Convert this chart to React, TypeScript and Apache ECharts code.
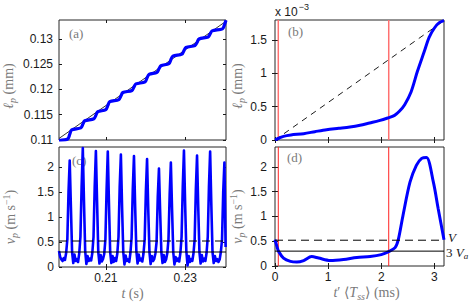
import React, { useEffect, useRef } from "react";
import * as echarts from "echarts";

// ---------- data ----------
// (a) l_p(t): time (s) and length (mm)
const A_T = [
  0.1982, 0.2004, 0.2009, 0.2014, 0.2037, 0.2042, 0.2047, 0.2070, 0.2075, 0.2080,
  0.2100, 0.2105, 0.2110, 0.2133, 0.2138, 0.2143, 0.2166, 0.2171, 0.2176, 0.2199,
  0.2204, 0.2209, 0.2229, 0.2234, 0.2239, 0.2259, 0.2264, 0.2269, 0.2292, 0.2297,
  0.2302, 0.2325, 0.2330, 0.2335, 0.2358, 0.2363, 0.2368, 0.2394, 0.2399, 0.2403,
];
const A_L = [
  0.1099, 0.1102, 0.1111, 0.1120, 0.1124, 0.1131, 0.1138, 0.1142, 0.1149, 0.1156,
  0.1160, 0.1168, 0.1176, 0.1180, 0.1187, 0.1194, 0.1198, 0.1205, 0.1211, 0.1215,
  0.1223, 0.1230, 0.1234, 0.1241, 0.1247, 0.1251, 0.1259, 0.1266, 0.1270, 0.1277,
  0.1283, 0.1287, 0.1293, 0.1300, 0.1304, 0.1310, 0.1316, 0.1320, 0.1328, 0.1337,
];
const A_FIT_T = [0.1982, 0.2403];
const A_FIT_L = [0.1103, 0.1335];

// (c) v_p(t): sampled every C_DT seconds from C_T0
const C_T0 = 0.1982;
const C_DT = 0.0003;
const C_V = [
  0.32, 0.2, 0.15, 0.12, 0.18, 0.14, 0.28, 0.55, 1.5, 2.13,
  1.2, 0.3, 0.08, 0.25, 0.12, 0.16, 0.1, 0.27, 0.6, 1.6,
  2.38, 1.3, 0.32, 0.06, 0.22, 0.12, 0.17, 0.13, 0.28, 0.6,
  1.6, 2.32, 1.3, 0.3, 0.07, 0.24, 0.11, 0.16, 0.26, 0.55,
  1.55, 2.31, 1.25, 0.3, 0.08, 0.22, 0.1, 0.18, 0.12, 0.27,
  0.6, 1.6, 2.25, 1.2, 0.3, 0.05, 0.23, 0.12, 0.15, 0.1,
  0.28, 0.58, 1.55, 2.22, 1.2, 0.32, 0.07, 0.25, 0.13, 0.17,
  0.11, 0.27, 0.55, 1.5, 2.16, 1.15, 0.3, 0.06, 0.22, 0.12,
  0.16, 0.27, 0.5, 1.4, 1.97, 1.1, 0.3, 0.08, 0.24, 0.1,
  0.15, 0.28, 0.55, 1.45, 2.09, 1.15, 0.3, 0.05, 0.2, 0.12,
  0.17, 0.11, 0.28, 0.6, 1.6, 2.33, 1.25, 0.32, 0.03, 0.22,
  0.1, 0.16, 0.12, 0.27, 0.55, 1.55, 2.23, 1.2, 0.3, 0.07,
  0.24, 0.11, 0.17, 0.12, 0.28, 0.6, 1.6, 2.31, 1.25, 0.3,
  0.08, 0.22, 0.12, 0.16, 0.1, 0.15, 0.3, 0.55, 1.5, 2.09,
  0.4,
];

// (b) phase-averaged l_p (x 10^-3 mm) vs t' (ms)
const B_T = [0, 0.08, 0.16, 0.3, 0.54, 0.75, 0.97, 1.2, 1.41, 1.6, 1.78, 1.96, 2.12, 2.25, 2.34, 2.44, 2.56, 2.68, 2.81, 2.9, 3.0, 3.09, 3.18];
const B_L = [0, 0.03, 0.055, 0.075, 0.095, 0.125, 0.155, 0.175, 0.194, 0.22, 0.255, 0.29, 0.33, 0.37, 0.43, 0.53, 0.72, 1.03, 1.33, 1.54, 1.68, 1.76, 1.79];
const B_LIN_T = [0, 3.18];
const B_LIN_L = [0, 1.79];

// (d) phase-averaged v_p (m/s) vs t' (ms)
const D_T = [0, 0.04, 0.07, 0.16, 0.29, 0.41, 0.54, 0.69, 0.82, 1.04, 1.29, 1.54, 1.79, 2.0, 2.14, 2.26, 2.32, 2.41, 2.54, 2.66, 2.76, 2.85, 2.98, 3.07, 3.18];
const D_V = [0.53, 0.38, 0.29, 0.16, 0.094, 0.08, 0.11, 0.19, 0.16, 0.11, 0.13, 0.17, 0.19, 0.23, 0.29, 0.37, 0.53, 1.03, 1.69, 2.03, 2.17, 2.19, 1.69, 1.16, 0.53];

const PHASE_MARKS = [0.062, 2.14];
const V_MEAN = 0.52;
const V_3VA = 0.3;

const T_RANGE = [0.1982, 0.2403];
const TP_RANGE = [0, 3.18];
const LA_RANGE = [0.11, 0.13375];
const LB_RANGE = [0, 1.8];
const V_RANGE = [0, 2.4];

const T_TICKS = [0.21, 0.23];
const TP_TICKS = [0, 1, 2, 3];
const LA_TICKS = [0.11, 0.115, 0.12, 0.125, 0.13];
const LB_TICKS = [0, 0.5, 1, 1.5];
const V_TICKS = [0, 0.5, 1, 1.5, 2];

// ---------- styling ----------
const SERIF = "'Liberation Serif', 'DejaVu Serif', 'DejaVu Sans', serif";
const SANS = "'Liberation Sans', Arial, 'DejaVu Sans', sans-serif";
const GRAY = "#7a7a7a";
const INK = "#1a1a1a";
const BLUE = "#0000ff";

const nameRich = {
  i: { fontFamily: SERIF, fontStyle: "italic", fontSize: 14, color: GRAY, lineHeight: 18 },
  n: { fontFamily: SERIF, fontSize: 14, color: GRAY, lineHeight: 18 },
  sub: { fontFamily: SERIF, fontStyle: "italic", fontSize: 10, color: GRAY, lineHeight: 10, verticalAlign: "bottom" as const },
  sup: { fontFamily: SERIF, fontSize: 10, color: GRAY, lineHeight: 10, verticalAlign: "top" as const },
};

const fmt = (v: number) => String(+Number(v).toFixed(4));

function makeAxis(gridIndex: number, range: number[], ticks: number[], opts: any = {}) {
  const { position, labels = false, margin = 5, name, nameGap, namePadding } = opts;
  const ax: any = {
    type: "value",
    gridIndex,
    min: range[0],
    max: range[1],
    position,
    axisLine: { show: false },
    axisTick: { show: true, inside: true, length: 3, customValues: ticks, lineStyle: { color: INK, width: 1 } },
    axisLabel: {
      show: labels,
      customValues: ticks,
      margin,
      fontSize: 12,
      fontFamily: SANS,
      color: INK,
      formatter: fmt,
    },
    splitLine: { show: false },
  };
  if (name) {
    ax.name = name;
    ax.nameLocation = "middle";
    ax.nameGap = nameGap;
    ax.nameTextStyle = { rich: nameRich, padding: namePadding || 0 };
  }
  return ax;
}

function zip(xs: number[], ys: number[]) {
  return xs.map((x, i) => [x, ys[i]]);
}

function lineSeries(xi: number, yi: number, data: number[][], style: any, z = 2, smooth: any = false) {
  return {
    type: "line",
    xAxisIndex: xi,
    yAxisIndex: yi,
    data,
    showSymbol: false,
    symbol: "none",
    smooth,
    lineStyle: style,
    itemStyle: { color: style.color },
    z,
    silent: true,
  };
}

export default function App() {
  const ref = useRef<HTMLDivElement>(null);
  useEffect(() => {
    if (!ref.current) return;
    const chart = echarts.init(ref.current, undefined, { renderer: "svg" });

    const grids = [
      { left: 56, top: 20, width: 170, height: 120 },
      { left: 275, top: 20, width: 169, height: 120 },
      { left: 56, top: 147, width: 170, height: 120 },
      { left: 275, top: 147, width: 169, height: 120 },
    ].map((g) => ({ ...g, show: true, borderColor: "#262626", borderWidth: 1, backgroundColor: "transparent", containLabel: false }));

    const xAxis = [
      makeAxis(0, T_RANGE, T_TICKS, { position: "bottom" }),
      makeAxis(0, T_RANGE, T_TICKS, { position: "top" }),
      makeAxis(1, TP_RANGE, TP_TICKS, { position: "bottom" }),
      makeAxis(1, TP_RANGE, TP_TICKS, { position: "top" }),
      makeAxis(2, T_RANGE, T_TICKS, {
        position: "bottom", labels: true, margin: 5,
        name: "{i|t}{n| (s)}", nameGap: 17, namePadding: [0, 20, 0, 0],
      }),
      makeAxis(2, T_RANGE, T_TICKS, { position: "top" }),
      makeAxis(3, TP_RANGE, TP_TICKS, {
        position: "bottom", labels: true, margin: 5,
        name: "{i|t}{n|′ ⟨}{i|T}{sub|ss}{n|⟩ (ms)}", nameGap: 17, namePadding: [0, 0, 0, 14],
      }),
      makeAxis(3, TP_RANGE, TP_TICKS, { position: "top" }),
    ];
    const yAxis = [
      makeAxis(0, LA_RANGE, LA_TICKS, {
        position: "left", labels: true, margin: 6,
        name: "{i|ℓ}{sub|p}{n| (mm)}", nameGap: 42, namePadding: [0, 12, 0, 0],
      }),
      makeAxis(0, LA_RANGE, LA_TICKS, { position: "right" }),
      makeAxis(1, LB_RANGE, LB_TICKS, {
        position: "left", labels: true, margin: 8,
        name: "{i|ℓ}{sub|p}{n| (mm)}", nameGap: 24, namePadding: [0, 12, 0, 0],
      }),
      makeAxis(1, LB_RANGE, LB_TICKS, { position: "right" }),
      makeAxis(2, V_RANGE, V_TICKS, {
        position: "left", labels: true, margin: 5,
        name: "{i|v}{sub|p}{n| (m s}{sup|−1}{n|)}", nameGap: 40, namePadding: [0, 20, 0, 0],
      }),
      makeAxis(2, V_RANGE, V_TICKS, { position: "right" }),
      makeAxis(3, V_RANGE, V_TICKS, {
        position: "left", labels: true, margin: 8,
        name: "{i|v}{sub|p}{n| (m s}{sup|−1}{n|)}", nameGap: 19, namePadding: [0, 20, 0, 0],
      }),
      makeAxis(3, V_RANGE, V_TICKS, { position: "right" }),
    ];

    const cData = C_V.map((v, i) => [C_T0 + i * C_DT, v]);
    const blueStyle = { color: BLUE, width: 3 };
    const series: any[] = [];

    // (a)
    series.push(lineSeries(0, 0, zip(A_FIT_T, A_FIT_L), { color: "#000", width: 0.8 }, 2));
    series.push(lineSeries(0, 0, zip(A_T, A_L), { color: BLUE, width: 3.2 }, 3, 0.3));

    // (b)
    series.push(lineSeries(2, 2, zip(B_LIN_T, B_LIN_L), { color: "#000", width: 0.9, type: [6, 5] }, 2));
    PHASE_MARKS.forEach((m) =>
      series.push(lineSeries(2, 2, [[m, LB_RANGE[0]], [m, LB_RANGE[1]]], { color: "#ff7070", width: 1.5 }, 1))
    );
    series.push(lineSeries(2, 2, zip(B_T, B_L), blueStyle, 3, 0.3));

    // (c)
    series.push(lineSeries(4, 4, cData, { color: BLUE, width: 2.6, join: "round" }, 3));
    series.push(lineSeries(4, 4, [[T_RANGE[0], V_MEAN], [T_RANGE[1], V_MEAN]], { color: "#000", width: 1, type: [8, 5] }, 5));
    series.push(lineSeries(4, 4, [[T_RANGE[0], V_3VA], [T_RANGE[1], V_3VA]], { color: "#000", width: 1 }, 5));

    // (d)
    PHASE_MARKS.forEach((m) =>
      series.push(lineSeries(6, 6, [[m, V_RANGE[0]], [m, V_RANGE[1]]], { color: "#ff2020", width: 1 }, 1))
    );
    series.push(lineSeries(6, 6, zip(D_T, D_V), blueStyle, 3, 0.3));
    series.push(lineSeries(6, 6, [[TP_RANGE[0], V_MEAN], [TP_RANGE[1], V_MEAN]], { color: "#000", width: 1, type: [8, 5] }, 5));
    series.push(lineSeries(6, 6, [[TP_RANGE[0], V_3VA], [TP_RANGE[1], V_3VA]], { color: "#000", width: 1 }, 5));

    const panelLabel = (text: string, x: number, y: number) => ({
      type: "text",
      x,
      y,
      silent: true,
      style: { text, fontFamily: SERIF, fontSize: 13, fill: GRAY },
    });

    const graphic = [
      panelLabel("(a)", 69, 27),
      panelLabel("(b)", 288, 25),
      panelLabel("(c)", 72, 154),
      panelLabel("(d)", 287, 151),
      {
        type: "text", x: 275, y: 2, silent: true,
        style: {
          text: "{n|x 10}{s|−3}",
          rich: {
            n: { fontFamily: SANS, fontSize: 12, fill: INK, lineHeight: 16, verticalAlign: "bottom" },
            s: { fontFamily: SANS, fontSize: 9, fill: INK, lineHeight: 16, verticalAlign: "top", padding: [0, 0, 8, 1] },
          },
        },
      },
      {
        type: "text", x: 448, y: 231, silent: true,
        style: { text: "V", fontFamily: SERIF, fontStyle: "italic", fontSize: 13, fill: INK },
      },
      {
        type: "text", x: 446, y: 244, silent: true,
        style: {
          text: "{n|3 }{i|V}{s|a}",
          rich: {
            n: { fontFamily: SERIF, fontSize: 13, fill: INK, lineHeight: 16 },
            i: { fontFamily: SERIF, fontStyle: "italic", fontSize: 13, fill: INK, lineHeight: 16 },
            s: { fontFamily: SERIF, fontStyle: "italic", fontSize: 9, fill: INK, lineHeight: 9, verticalAlign: "bottom" },
          },
        },
      },
    ];

    chart.setOption({
      animation: false,
      grid: grids,
      xAxis,
      yAxis,
      series,
      graphic,
    });
    return () => chart.dispose();
  }, []);

  return (
    <div
      ref={ref}
      style={{ position: "fixed", left: 0, top: 0, width: 469, height: 302, background: "#fff" }}
    />
  );
}
